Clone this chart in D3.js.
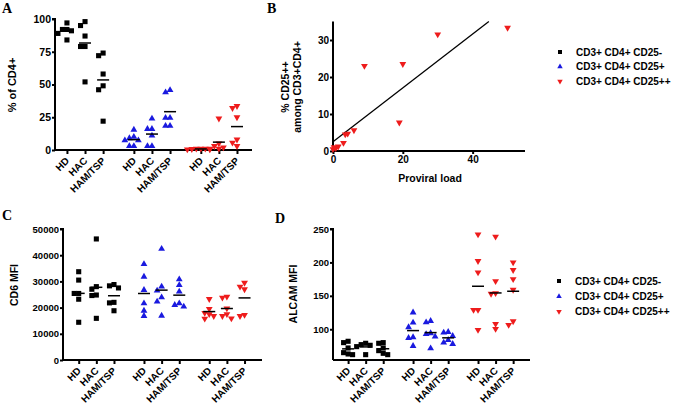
<!DOCTYPE html>
<html><head><meta charset="utf-8">
<script src="https://cdn.jsdelivr.net/npm/d3@7"></script>
<style>
html,body{margin:0;padding:0;background:#fff;}
svg{display:block;font-family:"Liberation Sans",Arial,sans-serif;}
</style></head>
<body>
<svg id="chart" width="680" height="404"></svg>
<script>
// ---------- DATA ----------
const groups = ["HD", "HAC", "HAM/TSP"];
const seriesNames = ["CD3+ CD4+ CD25-", "CD3+ CD4+ CD25+", "CD3+ CD4+ CD25++"];
const seriesColors = ["#000000", "#1a1adf", "#ee1c1c"];

// Panel A: % of CD4+
const aCD25neg = [[97, 92, 91, 89, 84, 92], [98, 95, 87, 79, 79, 52], [74, 72, 58, 49, 46, 22]];
const aCD25pos = [[15.5, 9, 10, 7.4, 7.4, 3, 3], [24, 16, 16, 11, 3, 3], [45.7, 44, 24.5, 24.5, 18.4, 18.4]];
const aCD25pp  = [[1, 1, 0.5, 0.5, 1, 0.8], [24, 5, 3, 2, 1, 1], [32, 33.6, 25, 8, 5.6, 3]];
const aTicks = [0, 25, 50, 75, 100];

// Panel B: % CD25++ vs proviral load
const bProviral = [0, 0.3, 0.8, 1.5, 3, 3.5, 4.2, 6, 9, 19, 20, 30, 50];
const bCD25pp   = [0.5, 1, 0.8, 1.2, 2.2, 4.5, 4.7, 5.6, 23, 7.7, 23.5, 31.5, 33.3];
const bXTicks = [0, 20, 40];
const bYTicks = [0, 10, 20, 30];

// Panel C: CD6 MFI
const cCD25neg = [[33700, 30500, 25400, 25400, 23200, 14400], [46200, 28000, 27000, 24800, 24600, 15900], [28800, 28300, 27500, 22000, 21800, 18800]];
const cCD25pos = [[36600, 31800, 26700, 21600, 18800, 16800], [42400, 28000, 26500, 22300, 23900, 16900], [30800, 28600, 26100, 21600, 21000, 20400]];
const cCD25pp  = [[23300, 19500, 18000, 17500, 16800, 15800], [24200, 23800, 19700, 17500, 16800, 15900], [29500, 28000, 27000, 16800, 17200]];
const cTicks = [0, 10000, 20000, 30000, 40000, 50000];

// Panel D: ALCAM MFI
const dCD25neg = [[82, 80, 72, 65, 62, 63], [79, 77, 76, 74, 62], [80, 79, 72, 68, 64, 62]];
const dCD25pos = [[125, 110, 103, 88, 87, 75], [110.4, 112.4, 92.7, 94, 89, 71.5], [95, 96, 90, 84, 80, 78]];
const dCD25pp  = [[242, 202, 185, 129, 129, 99], [238.5, 172, 154, 153, 100.5, 108], [200, 188.7, 175, 159, 106.5, 112]];
const dTicks = [100, 150, 200, 250];

// ---------- DRAWING ----------
const svg = d3.select("#chart");
const GROUP_GAP = 3.7;

function markerPath(si, sq, tri) {
  return si === 0 ? d3.symbol().type(d3.symbolSquare).size(sq)()
                  : d3.symbol().type(d3.symbolTriangle).size(tri)();
}

function beeswarm(values, yScale, r) {
  const idx = values.map((v, i) => i).sort((a, b) => values[b] - values[a]);
  const placed = [];
  const off = new Array(values.length).fill(0);
  const cands = [0, -1, 1, -2, 2, -3, 3];
  idx.forEach(i => {
    const y = yScale(values[i]);
    for (const c of cands) {
      const x = c * r;
      const hit = placed.some(p => Math.abs(p.x - x) < r * 0.9 && Math.abs(p.y - y) < 5);
      if (!hit) { off[i] = x; placed.push({x, y}); break; }
    }
  });
  return off;
}

function scatterPanel(cfg) {
  const g = svg.append("g");
  const x = d3.scaleLinear().domain(cfg.xDomain).range(cfg.xRange);
  const y = d3.scaleLinear().domain(cfg.yDomain).range(cfg.yRange);
  const yAxis = d3.axisLeft(y).tickValues(cfg.yTicks).tickSize(3).tickPadding(1).tickFormat(d3.format("d"));
  const ya = g.append("g").attr("transform", `translate(${cfg.xRange[0]},0)`).call(yAxis);
  ya.select(".domain").attr("d", `M-3,${cfg.yRange[1]}H0V${cfg.yRange[0]}`);
  const xPositions = [];
  cfg.series.forEach((s, si) => groups.forEach((gname, gi) => xPositions.push({pos: si * GROUP_GAP + gi, label: gname})));
  const xAxis = d3.axisBottom(x).tickValues(xPositions.map(d => d.pos)).tickSize(4).tickFormat((d, i) => xPositions[i].label);
  const xa = g.append("g").attr("transform", `translate(0,${cfg.yRange[0]})`).call(xAxis);
  xa.select(".domain").attr("d", `M${cfg.xRange[0]},0H${cfg.xRange[1]}`);
  [ya, xa].forEach(a => {
    a.selectAll("path,line").attr("stroke", "#000").attr("stroke-width", 2);
    a.selectAll("text").attr("font-weight", "bold").attr("font-size", cfg.tickFont).attr("fill", "#000");
  });
  xa.selectAll("text")
    .attr("font-size", 10)
    .attr("text-anchor", "end")
    .attr("transform", "translate(0,9) rotate(-45)")
    .attr("dy", "0.35em").attr("y", 0).attr("x", 0);
  cfg.series.forEach((s, si) => {
    s.forEach((vals, gi) => {
      const cx = x(si * GROUP_GAP + gi);
      const offs = beeswarm(vals, y, cfg.jit);
      vals.forEach((v, i) => {
        g.append("path").attr("d", markerPath(si, cfg.sq, cfg.tri))
          .attr("transform", `translate(${cx + offs[i]},${y(v)})` + (si === 2 ? " rotate(180)" : ""))
          .attr("fill", seriesColors[si]);
      });
      const m = d3.mean(vals);
      g.append("line").attr("x1", cx - 6).attr("x2", cx + 6).attr("y1", y(m)).attr("y2", y(m))
        .attr("stroke", "#000").attr("stroke-width", 1.5);
    });
  });
  g.append("text").attr("transform", `translate(${cfg.yLabelX},${cfg.yLabelY}) rotate(-90)`)
    .attr("text-anchor", "middle").attr("font-weight", "bold").attr("font-size", cfg.labelFont)
    .text(cfg.yLabel);
  return g;
}

function letter(t, xp, yp) {
  svg.append("text").attr("x", xp).attr("y", yp).attr("font-family", "'Liberation Serif','Times New Roman',serif")
    .attr("font-weight", "bold").attr("font-size", 14).text(t);
}

function legend(x0, y0, dy) {
  seriesNames.forEach((n, i) => {
    svg.append("path").attr("d", markerPath(i, 16, 13))
      .attr("transform", `translate(${x0},${y0 + i * dy})` + (i === 2 ? " rotate(180)" : ""))
      .attr("fill", seriesColors[i]);
    svg.append("text").attr("x", x0 + 16).attr("y", y0 + i * dy).attr("dy", "0.35em")
      .attr("font-weight", "bold").attr("font-size", 10).text(n);
  });
}

// Panel A
scatterPanel({
  series: [aCD25neg, aCD25pos, aCD25pp], xDomain: [-0.66, 10.23], xRange: [55, 252],
  yDomain: [0, 100], yRange: [150, 19], yTicks: aTicks, tickFont: 10.5, labelFont: 11,
  yLabel: "% of CD4+", yLabelX: 16, yLabelY: 85, sq: 26, tri: 20, jit: 4.5
});
letter("A", 2, 13);

// Panel C
scatterPanel({
  series: [cCD25neg, cCD25pos, cCD25pp], xDomain: [-0.89, 10.39], xRange: [63, 262],
  yDomain: [0, 50000], yRange: [360, 229], yTicks: cTicks, tickFont: 9.5, labelFont: 10.5,
  yLabel: "CD6 MFI", yLabelX: 18, yLabelY: 285, sq: 26, tri: 20, jit: 4.5
});
letter("C", 2, 220);

// Panel D
scatterPanel({
  series: [dCD25neg, dCD25pos, dCD25pp], xDomain: [-0.86, 10.36], xRange: [333, 530],
  yDomain: [54, 250], yRange: [360, 229], yTicks: dTicks, tickFont: 9.5, labelFont: 10.5,
  yLabel: "ALCAM MFI", yLabelX: 297, yLabelY: 294, sq: 26, tri: 20, jit: 4.5
});
letter("D", 275, 223);

// Panel B
(function () {
  const g = svg.append("g");
  const x = d3.scaleLinear().domain([0, 55]).range([333, 525]);
  const y = d3.scaleLinear().domain([0, 35]).range([151, 21.5]);
  const ya = g.append("g").attr("transform", "translate(333,0)")
    .call(d3.axisLeft(y).tickValues(bYTicks).tickSize(3).tickPadding(1));
  ya.select(".domain").attr("d", `M0,${y(35)}V${y(0)}`);
  const xa = g.append("g").attr("transform", "translate(0,151)")
    .call(d3.axisBottom(x).tickValues(bXTicks).tickSize(3).tickPadding(2));
  xa.select(".domain").attr("d", `M333,0H525`);
  [ya, xa].forEach(a => {
    a.selectAll("path,line").attr("stroke", "#000").attr("stroke-width", 2);
    a.selectAll("text").attr("font-weight", "bold").attr("font-size", 10).attr("fill", "#000");
  });
  const mx = d3.mean(bProviral), my = d3.mean(bCD25pp);
  let sxy = 0, sxx = 0;
  bProviral.forEach((v, i) => { sxy += (v - mx) * (bCD25pp[i] - my); sxx += (v - mx) * (v - mx); });
  const slope = sxy / sxx, icpt = my - slope * mx;
  const xEnd = (35 - icpt) / slope;
  g.append("line").attr("x1", x(0)).attr("y1", y(icpt)).attr("x2", x(xEnd)).attr("y2", y(35))
    .attr("stroke", "#000").attr("stroke-width", 1.3);
  bProviral.forEach((v, i) => {
    g.append("path").attr("d", markerPath(2, 26, 20))
      .attr("transform", `translate(${x(v)},${y(bCD25pp[i])}) rotate(180)`).attr("fill", seriesColors[2]);
  });
  const lab = g.append("text").attr("transform", "translate(289,87) rotate(-90)")
    .attr("text-anchor", "middle").attr("font-weight", "bold").attr("font-size", 10.5);
  lab.append("tspan").attr("x", 0).attr("dy", 0).text("% CD25++");
  lab.append("tspan").attr("x", 0).attr("dy", 12).text("among CD3+CD4+");
  g.append("text").attr("x", 430).attr("y", 182).attr("text-anchor", "middle")
    .attr("font-weight", "bold").attr("font-size", 10.5).text("Proviral load");
})();
letter("B", 267, 13);

legend(560, 52, 14.7);
legend(559, 281, 15.3);
</script>
</body></html>
